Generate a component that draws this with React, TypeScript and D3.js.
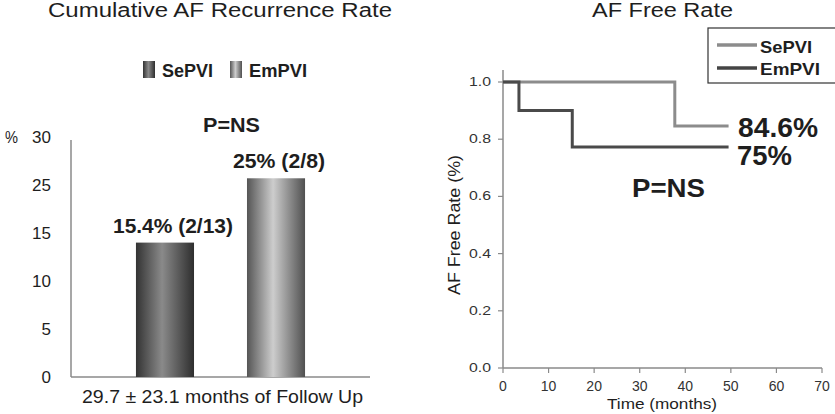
import React from "react";
import * as d3 from "d3";

const barGroups = ["SePVI", "EmPVI"];
const barValues = [14, 20.7];
const barLabels = ["15.4% (2/13)", "25% (2/8)"];
const leftTickPos = [0, 5, 10, 15, 20, 25];
const leftTickLabels = ["0", "5", "10", "15", "25", "30"];

const seTime = [0, 37.7, 49.5];
const seSurv = [1, 0.846, 0.846];
const emTime = [0, 3.5, 15.2, 49.5];
const emSurv = [1, 0.9, 0.773, 0.773];
const xTicks = [0, 10, 20, 30, 40, 50, 60, 70];
const yTicks = [0, 0.2, 0.4, 0.6, 0.8, 1.0];

const FONT = "'Liberation Sans', Arial, Helvetica, sans-serif";

export default function App() {
  const W = 835, H = 414;
  // left chart
  const yL = d3.scaleLinear().domain([0, 25]).range([377, 137]);
  const xL = d3.scaleBand().domain(barGroups).range([71, 370]).paddingInner(0.477).paddingOuter(0.585);
  const gradIds = ["gSe", "gEm"];
  const labelW = [120, 92];

  // right chart
  const xR = d3.scaleLinear().domain([0, 70]).range([503, 822]);
  const yR = d3.scaleLinear().domain([0, 1]).range([368, 82]);
  const step = d3.line<[number, number]>().x(d => xR(d[0])).y(d => yR(d[1])).curve(d3.curveStepAfter);
  const seData: [number, number][] = seTime.map((t, i) => [t, seSurv[i]]);
  const emData: [number, number][] = emTime.map((t, i) => [t, emSurv[i]]);
  const axisColor = "#8a8a8a";
  const ink = "#1e1e1e";

  return (
    <svg width={W} height={H} style={{ position: "absolute", left: 0, top: 0, background: "#fff" }} fontFamily={FONT}>
      <defs>
        <linearGradient id="gSe" x1="0" x2="1" y1="0" y2="0">
          <stop offset="0" stopColor="#333" />
          <stop offset="0.45" stopColor="#8a8a8a" />
          <stop offset="1" stopColor="#2e2e2e" />
        </linearGradient>
        <linearGradient id="gEm" x1="0" x2="1" y1="0" y2="0">
          <stop offset="0" stopColor="#555" />
          <stop offset="0.45" stopColor="#cdcdcd" />
          <stop offset="1" stopColor="#505050" />
        </linearGradient>
      </defs>
      <rect width={W} height={H} fill="#fff" />

      {/* LEFT CHART */}
      <text x={48} y={17} fontSize={20} fill={ink} textLength={344} lengthAdjust="spacingAndGlyphs">Cumulative AF Recurrence Rate</text>
      {barGroups.map((g, i) => {
        const lx = i === 0 ? 143 : 230;
        return (
          <g key={g}>
            <rect x={lx} y={61} width={12} height={17} fill={`url(#${gradIds[i]})`} />
            <text x={lx + 19} y={77} fontSize={19} fontWeight="bold" fill={ink} textLength={i === 0 ? 51 : 58} lengthAdjust="spacingAndGlyphs">{g}</text>
          </g>
        );
      })}
      <text x={203} y={132} fontSize={21} fontWeight="bold" fill={ink} textLength={57} lengthAdjust="spacingAndGlyphs">P=NS</text>
      <text x={5} y={143} fontSize={16} fill={ink} textLength={13} lengthAdjust="spacingAndGlyphs">%</text>
      {leftTickPos.map((v, i) => (
        <text key={v} x={51} y={yL(v) + 6} textAnchor="end" fontSize={17} fill={ink}>{leftTickLabels[i]}</text>
      ))}
      <line x1={71} x2={71} y1={yL(25) + 3} y2={yL(0)} stroke={axisColor} strokeWidth={1.5} />
      <line x1={71} x2={370} y1={yL(0)} y2={yL(0)} stroke={axisColor} strokeWidth={1.5} />
      {barGroups.map((g, i) => (
        <g key={g}>
          <rect x={xL(g)!} y={yL(barValues[i])} width={xL.bandwidth()} height={yL(0) - yL(barValues[i])} fill={`url(#${gradIds[i]})`} />
          <text x={xL(g)! + xL.bandwidth() / 2 + (i === 0 ? 8 : 3)} y={yL(barValues[i]) - 10} textAnchor="middle" fontSize={21} fontWeight="bold" fill={ink} textLength={labelW[i]} lengthAdjust="spacingAndGlyphs">{barLabels[i]}</text>
        </g>
      ))}
      <text x={82} y={403} fontSize={19} fill={ink} textLength={281} lengthAdjust="spacingAndGlyphs">29.7 ± 23.1 months of Follow Up</text>

      {/* RIGHT CHART */}
      <text x={592} y={17} fontSize={20} fill={ink} textLength={141} lengthAdjust="spacingAndGlyphs">AF Free Rate</text>
      <rect x={708} y={28} width={130} height={55} fill="#fff" stroke="#333" strokeWidth={1.2} />
      <line x1={717} x2={757} y1={45} y2={45} stroke="#8c8c8c" strokeWidth={3.5} />
      <line x1={717} x2={757} y1={68} y2={68} stroke="#444" strokeWidth={3.5} />
      <text x={760} y={53} fontSize={17} fontWeight="bold" fill={ink} textLength={52} lengthAdjust="spacingAndGlyphs">SePVI</text>
      <text x={760} y={75} fontSize={17} fontWeight="bold" fill={ink} textLength={60} lengthAdjust="spacingAndGlyphs">EmPVI</text>

      <line x1={xR(0)} x2={xR(0)} y1={70} y2={yR(0)} stroke={axisColor} strokeWidth={1.5} />
      <line x1={xR(0)} x2={xR(70)} y1={yR(0)} y2={yR(0)} stroke={axisColor} strokeWidth={1.5} />
      {yTicks.map(v => (
        <g key={v}>
          <line x1={xR(0) - 5} x2={xR(0)} y1={yR(v)} y2={yR(v)} stroke={axisColor} strokeWidth={1.2} />
          <text x={491} y={yR(v) + 4} textAnchor="end" fontSize={13} fill="#333" textLength={22} lengthAdjust="spacingAndGlyphs">{d3.format(".1f")(v)}</text>
        </g>
      ))}
      {xTicks.map(v => (
        <g key={v}>
          <line x1={xR(v)} x2={xR(v)} y1={yR(0)} y2={yR(0) + 5} stroke={axisColor} strokeWidth={1.2} />
          <text x={xR(v)} y={391} textAnchor="middle" fontSize={14} fill="#333">{v}</text>
        </g>
      ))}
      <text x={607} y={409} fontSize={15.5} fill={ink} textLength={110} lengthAdjust="spacingAndGlyphs">Time (months)</text>
      <text transform={`translate(460,295) rotate(-90)`} fontSize={16} fill={ink} textLength={140} lengthAdjust="spacingAndGlyphs">AF Free Rate (%)</text>

      <path d={step(seData)!} fill="none" stroke="#8c8c8c" strokeWidth={3} />
      <path d={step(emData)!} fill="none" stroke="#4a4a4a" strokeWidth={3} />

      <text x={738} y={137} fontSize={27} fontWeight="bold" fill={ink} textLength={80} lengthAdjust="spacingAndGlyphs">84.6%</text>
      <text x={737} y={165} fontSize={27} fontWeight="bold" fill={ink} textLength={55} lengthAdjust="spacingAndGlyphs">75%</text>
      <text x={632} y={197} fontSize={26} fontWeight="bold" fill={ink} textLength={73} lengthAdjust="spacingAndGlyphs">P=NS</text>
    </svg>
  );
}
